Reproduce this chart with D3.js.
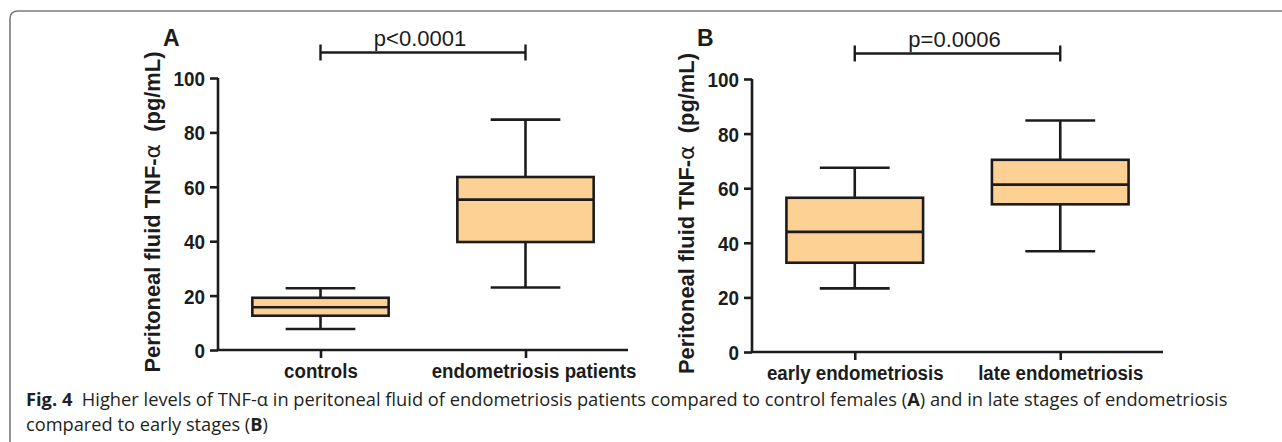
<!DOCTYPE html>
<html>
<head>
<meta charset="utf-8">
<script src="https://cdn.jsdelivr.net/npm/d3@7.9.0/dist/d3.min.js"></script>
<style>
  body { margin: 0; background: #fff; }
  svg { display: block; }
</style>
</head>
<body>
<svg width="1282" height="442"></svg>
<script>
// values
const yTicks = [0, 20, 40, 60, 80, 100];

const labelsA = ['controls', 'endometriosis patients'];
const minA = [7.7, 23.0];
const q1A = [12.6, 39.7];
const medA = [15.7, 55.3];
const q3A = [19.2, 63.6];
const maxA = [22.7, 84.7];

const labelsB = ['early endometriosis', 'late endometriosis'];
const minB = [23.3, 36.9];
const q1B = [32.7, 54.1];
const medB = [44.0, 61.3];
const q3B = [56.5, 70.4];
const maxB = [67.5, 84.8];

const panelNames = ['A', 'B'];
const pValues = ['p<0.0001', 'p=0.0006'];

const svg = d3.select('svg');
const ink = '#1c1c1c';
const boxFill = '#fdd193';
const chartFont = '"Liberation Sans", Arial, sans-serif';

// frame round the figure
svg.append('path')
  .attr('d', 'M10,460 L10,19 Q10,11 18,11 L1290,11')
  .attr('fill', 'none')
  .attr('stroke', '#7a7a7a')
  .attr('stroke-width', 1.6);

// squeeze text a little, the original font is narrower than Arial
function narrow(sel, k) {
  sel.each(function () {
    let w = this.getComputedTextLength();
    d3.select(this).attr('textLength', w * k).attr('lengthAdjust', 'spacingAndGlyphs');
  });
}

function drawPanel(cfg) {
  const { x0, x1, yTop, yBottom, labels, mins, q1s, meds, q3s, maxs, name, pText } = cfg;

  let x = d3.scalePoint().domain(labels).range([x0, x1]).padding(0.5);
  let y = d3.scaleLinear().domain([0, 100]).range([yBottom, yTop]);
  let step = x.step();
  let boxW = step * 0.665;
  let capW = step * 0.34;

  let g = svg.append('g');

  // y axis
  let yAxis = g.append('g')
    .attr('transform', `translate(${x0},0)`)
    .call(d3.axisLeft(y).tickValues(yTicks).tickSize(8).tickPadding(5));
  // x axis
  let xAxis = g.append('g')
    .attr('transform', `translate(0,${yBottom})`)
    .call(d3.axisBottom(x).tickSize(8).tickPadding(5));

  [yAxis, xAxis].forEach(a => {
    a.select('.domain').attr('stroke', ink).attr('stroke-width', 2.6);
    a.selectAll('.tick line').attr('stroke', ink).attr('stroke-width', 2.6);
    a.selectAll('.tick text')
      .attr('fill', ink)
      .style('font-family', chartFont)
      .style('font-weight', 'bold');
  });
  yAxis.select('.domain').attr('d', `M0,${yBottom}V${yTop}`);
  yAxis.selectAll('.tick text').style('font-size', '21px').attr('dy', '0.36em').call(narrow, 0.9);
  xAxis.select('.domain').attr('d', `M${x0},0H${x1}`);
  xAxis.selectAll('.tick text').style('font-size', '20px').attr('dy', '0.75em').call(narrow, 0.935);
  // long label on the right sits a bit right of its tick in the original
  xAxis.selectAll('.tick text')
    .attr('x', function () { return this.getComputedTextLength() > 190 ? 8 : 0; });

  // boxes
  let data = labels.map((l, i) => ({ label: l, min: mins[i], q1: q1s[i], med: meds[i], q3: q3s[i], max: maxs[i] }));
  let boxes = g.selectAll('.box').data(data).join('g').attr('class', 'box');

  boxes.append('line')
    .attr('x1', d => x(d.label)).attr('x2', d => x(d.label))
    .attr('y1', d => y(d.max)).attr('y2', d => y(d.min))
    .attr('stroke', ink).attr('stroke-width', 2.6);
  boxes.selectAll('.cap').data(d => [[d.label, d.min], [d.label, d.max]]).join('line')
    .attr('class', 'cap')
    .attr('x1', d => x(d[0]) - capW / 2).attr('x2', d => x(d[0]) + capW / 2)
    .attr('y1', d => y(d[1])).attr('y2', d => y(d[1]))
    .attr('stroke', ink).attr('stroke-width', 2.6);
  boxes.append('rect')
    .attr('x', d => x(d.label) - boxW / 2)
    .attr('width', boxW)
    .attr('y', d => y(d.q3))
    .attr('height', d => y(d.q1) - y(d.q3))
    .attr('fill', boxFill)
    .attr('stroke', ink).attr('stroke-width', 2.6);
  boxes.append('line')
    .attr('x1', d => x(d.label) - boxW / 2).attr('x2', d => x(d.label) + boxW / 2)
    .attr('y1', d => y(d.med)).attr('y2', d => y(d.med))
    .attr('stroke', ink).attr('stroke-width', 2.6);

  // significance bracket
  let bx1 = x(labels[0]), bx2 = x(labels[1]);
  let by = yTop - 25.5;
  g.append('path')
    .attr('d', `M${bx1},${by - 8}V${by + 8}M${bx1},${by}H${bx2}M${bx2},${by - 8}V${by + 8}`)
    .attr('fill', 'none').attr('stroke', ink).attr('stroke-width', 2.4);
  g.append('text')
    .attr('x', (bx1 + bx2) / 2 - 3)
    .attr('y', by - 7)
    .attr('text-anchor', 'middle')
    .style('font-family', chartFont)
    .style('font-size', '22px')
    .attr('fill', ink)
    .text(pText);

  // panel letter
  g.append('text')
    .attr('x', x0 - 55)
    .attr('y', 46)
    .style('font-family', chartFont)
    .style('font-size', '23px')
    .style('font-weight', 'bold')
    .attr('fill', ink)
    .text(name);

  // y axis title
  let yt = g.append('text')
    .attr('transform', `translate(${x0 - 58},${(yTop + yBottom) / 2 - 2}) rotate(-90)`)
    .attr('text-anchor', 'middle')
    .style('font-family', chartFont)
    .style('font-size', '21.5px')
    .style('font-weight', 'bold')
    .attr('fill', ink);
  yt.append('tspan').text('Peritoneal fluid TNF-');
  yt.append('tspan').style('font-family', '"DejaVu Sans", sans-serif').style('font-weight', 'normal').text('\u03b1');
  yt.append('tspan').text('\u00a0 (pg/mL)');
  yt.call(narrow, 321 / yt.node().getComputedTextLength());
}

drawPanel({ x0: 218, x1: 628, yTop: 78, yBottom: 350, labels: labelsA, mins: minA, q1s: q1A, meds: medA, q3s: q3A, maxs: maxA, name: panelNames[0], pText: pValues[0] });
drawPanel({ x0: 752, x1: 1163, yTop: 79, yBottom: 352, labels: labelsB, mins: minB, q1s: q1B, meds: medB, q3s: q3B, maxs: maxB, name: panelNames[1], pText: pValues[1] });

// caption
const capFont = '"Open Sans", "Noto Sans", sans-serif';
function captionLine(yPos, parts, targetW) {
  let t = svg.append('text')
    .attr('y', yPos)
    .style('font-family', capFont)
    .style('font-size', '18px')
    .attr('fill', '#231f20');
  parts.forEach(p => {
    t.append('tspan').style('font-weight', p[1] ? 'bold' : 'normal').text(p[0]);
  });
  let w = t.node().getComputedTextLength();
  let sx = targetW / w;
  t.attr('transform', `translate(26,0) scale(${sx},1)`);
}
captionLine(406, [
  ['Fig. 4', true],
  ['\u00a0 Higher levels of TNF-\u03b1 in peritoneal fluid of endometriosis patients compared to control females (', false],
  ['A', true],
  [') and in late stages of endometriosis', false]
], 1203);
captionLine(431, [
  ['compared to early stages (', false],
  ['B', true],
  [')', false]
], 242);
</script>
</body>
</html>
